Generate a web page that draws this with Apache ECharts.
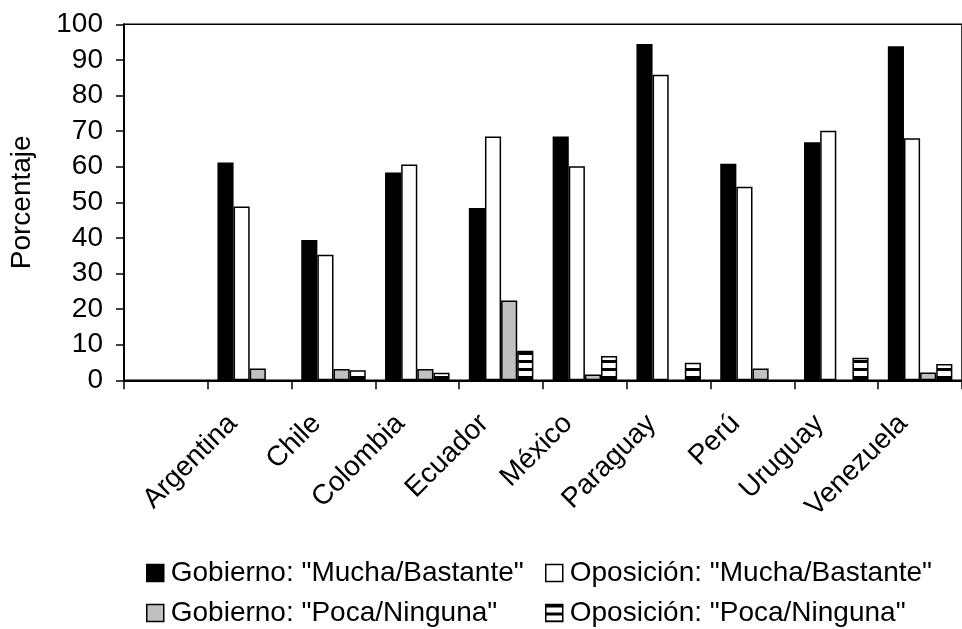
<!DOCTYPE html>
<html>
<head>
<meta charset="utf-8">
<script src="https://cdn.jsdelivr.net/npm/echarts@6/dist/echarts.min.js"></script>
<style>
  html, body { margin: 0; padding: 0; background: #fff; }
  #chart { width: 962px; height: 629px; }
</style>
</head>
<body>
<div id="chart"></div>
<script>
// Countries (the first slot is an empty category, as in the source workbook)
const categories = ['', 'Argentina', 'Chile', 'Colombia', 'Ecuador', 'México', 'Paraguay', 'Perú', 'Uruguay', 'Venezuela'];

const seriesNames = [
  'Gobierno: "Mucha/Bastante"',
  'Oposición: "Mucha/Bastante"',
  'Gobierno: "Poca/Ninguna"',
  'Oposición: "Poca/Ninguna"'
];

const gobiernoMucha  = [null, 61.2, 39.4, 58.4, 48.4, 68.5, 94.5, 60.8, 66.9, 93.8];
const oposicionMucha = [null, 48.8, 35.3, 60.6, 68.5, 60.1, 85.8, 54.4, 70.1, 68.0];
const gobiernoPoca   = [null, 3.3, 3.2, 3.2, 22.4, 1.6, null, 3.3, null, 2.2];
const oposicionPoca  = [null, null, 2.8, 2.1, 8.3, 6.8, 4.9, null, 6.3, 4.6];

const yTicks = [0, 10, 20, 30, 40, 50, 60, 70, 80, 90, 100];

const FONT = '"Liberation Sans", Arial, sans-serif';

// Horizontal black/white stripe fill
function stripePattern() {
  const c = document.createElement('canvas');
  c.width = 4; c.height = 8;
  const ctx = c.getContext('2d');
  ctx.fillStyle = '#ffffff';
  ctx.fillRect(0, 0, 4, 8);
  ctx.fillStyle = '#000000';
  ctx.fillRect(0, 0, 4, 3);
  return c;
}
const stripes = { image: stripePattern(), repeat: 'repeat' };

const fills = ['#000000', '#ffffff', '#c0c0c0', stripes];
const values = [gobiernoMucha, oposicionMucha, gobiernoPoca, oposicionPoca];

const chart = echarts.init(document.getElementById('chart'), null, { renderer: 'canvas' });

const legendPos = [
  { left: 146, top: 559 },
  { left: 545, top: 559 },
  { left: 146, top: 599 },
  { left: 545, top: 599 }
];

chart.setOption({
  animation: false,
  backgroundColor: '#ffffff',
  textStyle: { fontFamily: FONT },
  grid: {
    left: 120, right: -5, top: 24.3, bottom: 629 - 380.3,
    show: true, borderColor: '#000', borderWidth: 1.5, backgroundColor: 'transparent'
  },
  legend: legendPos.map((p, i) => ({
    left: p.left, top: p.top, padding: 0,
    icon: 'rect', itemWidth: 17, itemHeight: 17, itemGap: 0,
    textStyle: { fontFamily: FONT, fontSize: 28, color: '#000', padding: [0, 0, 0, 2] },
    data: [{ name: seriesNames[i], itemStyle: { borderColor: '#000', borderWidth: 1.5 } }]
  })),
  xAxis: {
    type: 'category',
    data: categories,
    axisLine: { lineStyle: { color: '#000', width: 2 } },
    axisTick: { show: true, length: 9, lineStyle: { color: '#000', width: 1.5 } },
    axisLabel: {
      interval: 0, rotate: 45, margin: 22,
      padding: [0, 24, 0, 0],
      fontFamily: FONT, fontSize: 28, color: '#000'
    },
    splitLine: { show: false }
  },
  yAxis: {
    type: 'value',
    min: yTicks[0], max: yTicks[yTicks.length - 1], interval: 10,
    name: 'Porcentaje',
    nameLocation: 'middle', nameRotate: 90, nameGap: 88,
    nameTextStyle: { fontFamily: FONT, fontSize: 28, color: '#000' },
    axisLine: { show: true, lineStyle: { color: '#000', width: 2 } },
    axisTick: { show: true, length: 8, lineStyle: { color: '#000', width: 1.5 } },
    axisLabel: { margin: 21, fontFamily: FONT, fontSize: 28, color: '#000' },
    splitLine: { show: false }
  },
  series: values.map((v, i) => ({
    name: seriesNames[i],
    type: 'bar',
    data: v,
    barGap: '0%',
    barCategoryGap: '23%',
    itemStyle: { color: fills[i], borderColor: '#000', borderWidth: 1.5 }
  }))
});
</script>
</body>
</html>
